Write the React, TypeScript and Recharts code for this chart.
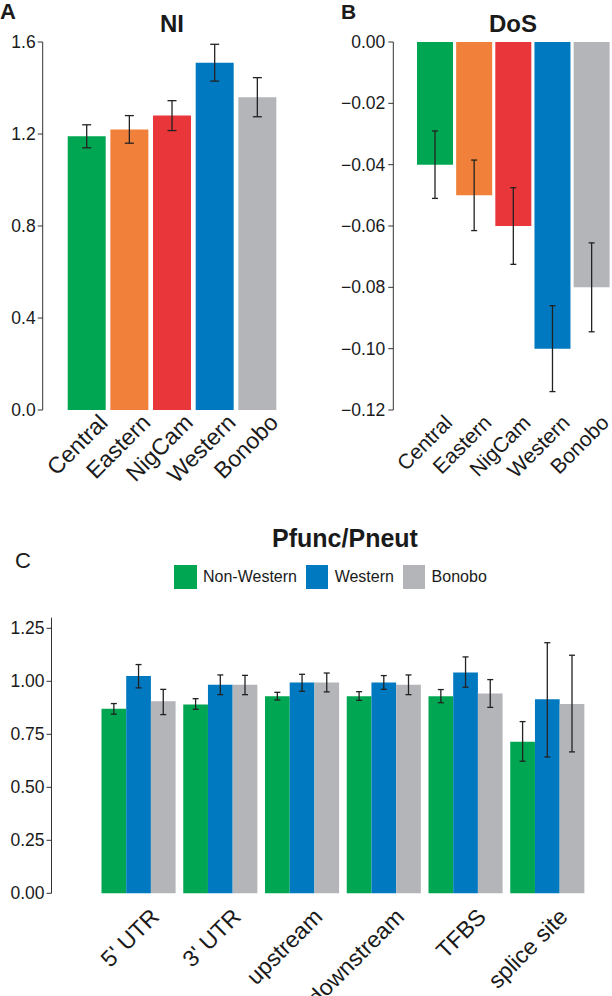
import React from 'react';
import { BarChart, Bar, Cell, XAxis, YAxis, ErrorBar } from 'recharts';

// panels A and B: one bar per population
const populations = ['Central', 'Eastern', 'NigCam', 'Western', 'Bonobo'];
const popColors = ['#00A651', '#F0803A', '#E8363B', '#0079C0', '#B4B5B8'];

const niValues = [1.19, 1.22, 1.28, 1.51, 1.36];
const niLow = [1.14, 1.16, 1.215, 1.43, 1.275];
const niHigh = [1.24, 1.28, 1.345, 1.59, 1.445];
const niTicks = [0, 0.4, 0.8, 1.2, 1.6];

const dosValues = [-0.04, -0.05, -0.06, -0.1, -0.08];
const dosLow = [-0.051, -0.0615, -0.0725, -0.114, -0.0945];
const dosHigh = [-0.029, -0.0385, -0.0475, -0.086, -0.0655];
const dosTicks = [0, -0.02, -0.04, -0.06, -0.08, -0.1, -0.12];

// panel C: grouped bars per region
const regions = ["5' UTR", "3' UTR", 'upstream', 'downstream', 'TFBS', 'splice site'];
const nonWestern = [0.87, 0.89, 0.93, 0.93, 0.93, 0.715];
const nonWesternLow = [0.845, 0.868, 0.912, 0.91, 0.899, 0.623];
const nonWesternHigh = [0.895, 0.918, 0.948, 0.951, 0.961, 0.81];
const western = [1.025, 0.984, 0.994, 0.994, 1.042, 0.915];
const westernLow = [0.969, 0.937, 0.953, 0.962, 0.972, 0.643];
const westernHigh = [1.079, 1.03, 1.033, 1.027, 1.115, 1.182];
const bonobo = [0.906, 0.984, 0.994, 0.984, 0.943, 0.893];
const bonoboLow = [0.843, 0.937, 0.95, 0.937, 0.877, 0.667];
const bonoboHigh = [0.962, 1.028, 1.039, 1.03, 1.008, 1.123];
const pfTicks = [0, 0.25, 0.5, 0.75, 1, 1.25];

const pfSeries = [
  { key: 'nonWestern', label: 'Non-Western', color: '#00A651' },
  { key: 'western', label: 'Western', color: '#0079C0' },
  { key: 'bonobo', label: 'Bonobo', color: '#B4B5B8' },
];

const errOf = (v: number, lo: number, hi: number) => [v - lo, hi - v];

const niTable = populations.map((name, i) => ({
  name,
  value: niValues[i],
  err: errOf(niValues[i], niLow[i], niHigh[i]),
}));

const dosTable = populations.map((name, i) => ({
  name,
  value: dosValues[i],
  err: errOf(dosValues[i], dosLow[i], dosHigh[i]),
}));

const pfTable = regions.map((name, i) => ({
  name,
  nonWestern: nonWestern[i],
  nonWesternErr: errOf(nonWestern[i], nonWesternLow[i], nonWesternHigh[i]),
  western: western[i],
  westernErr: errOf(western[i], westernLow[i], westernHigh[i]),
  bonobo: bonobo[i],
  bonoboErr: errOf(bonobo[i], bonoboLow[i], bonoboHigh[i]),
}));

const FONT = '"Liberation Sans", Arial, Helvetica, sans-serif';
const INK = '#1a1a1a';
const AXIS = '#333';

function SlantTick(props: any) {
  const { x, y, payload, dx, dy, size } = props;
  const tx = x + dx;
  const ty = y + dy;
  return (
    <text
      x={tx}
      y={ty}
      transform={`rotate(-45 ${tx} ${ty})`}
      textAnchor="end"
      fontSize={size}
      fill={INK}
      fontFamily={FONT}
    >
      {payload.value}
    </text>
  );
}

function ValueTick(props: any) {
  const { x, y, payload, fmt } = props;
  return (
    <text x={x} y={y + 6} textAnchor="end" fontSize={17.5} fill={INK} fontFamily={FONT}>
      {fmt(payload.value)}
    </text>
  );
}

const oneDec = (v: number) => v.toFixed(1);
const twoDec = (v: number) => v.toFixed(2);
const minus = (v: number) => (v === 0 ? '0.00' : '\u2212' + Math.abs(v).toFixed(2));

export default function App() {
  return (
    <div
      style={{
        position: 'absolute',
        left: 0,
        top: 0,
        width: 612,
        height: 996,
        overflow: 'hidden',
        background: '#fff',
        fontFamily: FONT,
      }}
    >
      {/* A: NI */}
      <div style={{ position: 'absolute', left: 0, top: 0 }}>
        <BarChart width={310} height={505} data={niTable} margin={{ top: 42, right: 8, left: 0, bottom: 0 }}>
          <XAxis
            dataKey="name"
            axisLine={false}
            tickLine={false}
            tickSize={0}
            tickMargin={0}
            interval={0}
            height={95}
            padding={{ left: 23, right: 23 }}
            tick={(p: any) => <SlantTick {...p} dx={22} dy={14} size={23} />}
          />
          <YAxis
            width={42.7}
            domain={[0, 1.6]}
            ticks={niTicks}
            interval={0}
            tick={(p: any) => <ValueTick {...p} fmt={oneDec} />}
            tickSize={5}
            tickMargin={2}
            stroke={AXIS}
          />
          <Bar dataKey="value" barSize={38} isAnimationActive={false}>
            {niTable.map((d, i) => (
              <Cell key={d.name} fill={popColors[i]} />
            ))}
            <ErrorBar dataKey="err" width={4.5} stroke="#222" strokeWidth={1.3} />
          </Bar>
        </BarChart>
      </div>

      {/* B: DoS */}
      <div style={{ position: 'absolute', left: 300, top: 0 }}>
        <BarChart width={333} height={505} data={dosTable} margin={{ top: 42, right: 0.5, left: 0, bottom: 0 }}>
          <XAxis
            dataKey="name"
            axisLine={false}
            tickLine={false}
            tickSize={0}
            tickMargin={0}
            interval={0}
            height={95}
            padding={{ left: 21.7, right: 21.7 }}
            tick={(p: any) => <SlantTick {...p} dx={19} dy={14} size={21} />}
          />
          <YAxis
            width={93.3}
            domain={[-0.12, 0]}
            ticks={dosTicks}
            interval={0}
            tick={(p: any) => <ValueTick {...p} fmt={minus} />}
            tickSize={5}
            tickMargin={3}
            stroke={AXIS}
          />
          <Bar dataKey="value" barSize={36} isAnimationActive={false}>
            {dosTable.map((d, i) => (
              <Cell key={d.name} fill={popColors[i]} />
            ))}
            <ErrorBar dataKey="err" width={3} stroke="#222" strokeWidth={1.3} />
          </Bar>
        </BarChart>
      </div>

      {/* C: Pfunc/Pneut */}
      <div style={{ position: 'absolute', left: 0, top: 600 }}>
        <BarChart
          width={634}
          height={396}
          data={pfTable}
          barGap={0}
          margin={{ top: 17.7, right: 0, left: 0, bottom: 0 }}
        >
          <XAxis
            dataKey="name"
            axisLine={false}
            tickLine={false}
            tickSize={0}
            tickMargin={0}
            interval={0}
            height={102.7}
            padding={{ left: 46, right: 46 }}
            tick={(p: any) => <SlantTick {...p} dx={22} dy={25} size={23} />}
          />
          <YAxis
            width={51.5}
            domain={[0, 1.3]}
            ticks={pfTicks}
            interval={0}
            tick={(p: any) => <ValueTick {...p} fmt={twoDec} />}
            tickSize={5}
            tickMargin={2}
            stroke={AXIS}
          />
          {pfSeries.map((s) => (
            <Bar key={s.key} dataKey={s.key} fill={s.color} barSize={24.7} isAnimationActive={false}>
              <ErrorBar dataKey={s.key + 'Err'} width={3} stroke="#222" strokeWidth={1.3} />
            </Bar>
          ))}
        </BarChart>
      </div>

      {/* titles and panel letters */}
      <svg width={612} height={996} style={{ position: 'absolute', left: 0, top: 0, pointerEvents: 'none' }}>
        <g fontFamily={FONT} fill={INK}>
          <text x={0} y={19} fontSize={22} fontWeight="bold">A</text>
          <text x={172} y={32} fontSize={24} fontWeight="bold" textAnchor="middle">NI</text>
          <text x={341} y={19} fontSize={21} fontWeight="bold">B</text>
          <text x={513} y={32} fontSize={24} fontWeight="bold" textAnchor="middle">DoS</text>
          <text x={345} y={547} fontSize={25} fontWeight="bold" textAnchor="middle">Pfunc/Pneut</text>
          <text x={15} y={568} fontSize={22}>C</text>
        </g>
      </svg>

      {/* legend for C */}
      <div
        style={{
          position: 'absolute',
          left: 174.3,
          top: 565,
          display: 'flex',
          alignItems: 'center',
          fontSize: 16,
          color: INK,
        }}
      >
        {pfSeries.map((s) => (
          <div key={s.key} style={{ display: 'flex', alignItems: 'center', marginRight: 9 }}>
            <div style={{ width: 22.4, height: 24, background: s.color }} />
            <span style={{ marginLeft: 6.3 }}>{s.label}</span>
          </div>
        ))}
      </div>
    </div>
  );
}
